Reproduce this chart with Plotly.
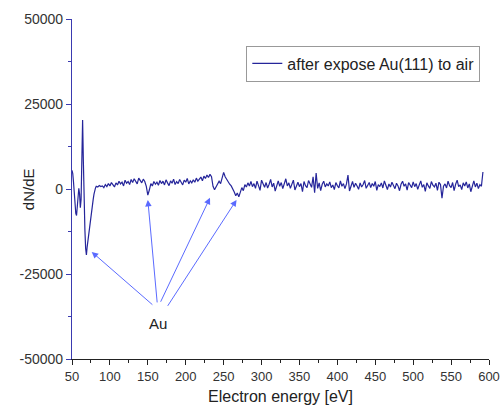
import plotly.graph_objects as go

# Low-energy region (1 eV steps) — Au MNN / NOO structure
energy_low = [50, 51, 52, 53, 54, 55, 56, 57, 58, 59, 60, 61, 62, 63, 64, 65,
              66, 67, 68, 69, 70, 71, 72, 73, 74, 75, 76, 77, 78, 79, 80, 81,
              82, 84, 86, 88]
signal_low = [5500, 4500, 2000, -1500, -5000, -7200, -7800, -5500, -2000, 200,
              -1500, -5500, -3000, 12000, 20300, 8000, -5500, -12000, -17500,
              -19400, -17000, -15000, -13500, -12500, -10000, -8000, -7000,
              -5000, -3000, -1500, -200, 300, 800, 600, 1000, 700]

# Remaining spectrum, 2 eV steps from 90 eV to 592 eV
energy_high = list(range(90, 593, 2))
signal_high = [
    900, 400, 1300, 700, 1600, 900, 1900, 1100, 600, 1800,          # 90-108
    1200, 2300, 1500, 2000, 900, 2600, 1700, 2200, 1300, 2800,      # 110-128
    1900, 3000, 2100, 1500, 3200, 2400, 1800, 2900, 2200, 800,      # 130-148
    -1800, -300, 1600, 900, 2200, 1400, 2000, 1100, 2500, 1600,     # 150-168
    2300, 1200, 2700, 1800, 1000, 2400, 1700, 2900, 1300, 2200,     # 170-188
    1600, 2800, 1900, 1200, 2600, 2000, 3100, 1500, 2400, 1800,     # 190-208
    2700, 2000, 3200, 2300, 2900, 3500, 2400, 3800, 3100, 4100,     # 210-228
    3400, 4300, 3600, 800, -200, 500, 1500, 2300, 1600, 3400,       # 230-248
    4900, 3600, 2800, 2000, 1400, 900, -300, -900, -2000, -1200,    # 250-268
    -2300, -600, 400, -500, 1300, 600, 1800, 900, 2200, 700,        # 270-288
    1600, 200, 2300, 1000, -400, 2600, 1200, 500, 1900, 300,        # 290-308
    1400, 2800, 600, 1700, -600, 1100, 2400, 800, 1900, 100,        # 310-328
    1300, 3000, 900, 1800, 200, 1500, 2600, -300, 1200, 2000,       # 330-348
    700, 1600, -800, 2200, 1000, 400, 2500, 1300, 500, 3600,        # 350-368
    -1100, 4700, 200, 1800, -500, 1400, 2300, 600, 1500, 900,       # 370-388
    2100, 400, 1200, -200, 1900, 1000, 300, 2400, 800, 1600,        # 390-408
    100, 1500, 4100, -600, 1200, 2200, 500, 1700, 900, -100,        # 410-428
    1800, 600, 1300, 2500, 200, 1000, 1900, 400, 1600, 800,         # 430-448
    2200, -400, 1300, 700, 1800, 300, 2400, 1100, -200, 1500,       # 450-468
    600, 2000, 1200, 100, 1700, 900, -500, 1400, 2300, 800,         # 470-488
    1500, -300, 1900, 1000, 400, 2100, 700, 1600, -100, 1200,       # 490-508
    2400, 500, 1300, -700, 1800, 900, 200, 2200, 1100, 600,         # 510-528
    1700, -400, 2000, 1300, -2700, 800, 1500, 300, 2300, 1000,      # 530-548
    400, 1900, -500, 1400, 2600, 700, 1200, -200, 1800, 900,        # 550-568
    2100, 300, 1500, -800, 1200, 2400, 600, 1700, 100, 1300,        # 570-588
    800, 5000,                                                      # 590-592
]

energy = energy_low + energy_high
signal = signal_low + signal_high

# Axis ticks
y_tick_values = [-50000, -25000, 0, 25000, 50000]
y_tick_labels = ["-50000", "-25000", "0", "25000", "50000"]
x_tick_values = [50, 100, 150, 200, 250, 300, 350, 400, 450, 500, 550, 600]

# Arrows from the "Au" label to the gold features
arrow_tip_energy = [76, 150, 232, 267]
arrow_tip_level = [-18500, -3200, -2600, -3200]
arrow_tail_energy = [158, 162.5, 166, 175]
arrow_tail_level = [-34400, -33800, -33600, -34800]
label_energy, label_level, label_text = 164, -39500, "Au"

series_name = "after expose Au(111) to air"
FONT = "Liberation Sans, Arial"

fig = go.Figure()
fig.add_trace(go.Scatter(
    x=energy, y=signal, mode="lines", name=series_name,
    line=dict(color="#25259a", width=1.2),
))

for tx, ty, sx, sy in zip(arrow_tip_energy, arrow_tip_level,
                          arrow_tail_energy, arrow_tail_level):
    fig.add_annotation(
        x=tx, y=ty, ax=sx, ay=sy, xref="x", yref="y", axref="x", ayref="y",
        text="", showarrow=True, arrowhead=2, arrowsize=1.3, arrowwidth=1.0,
        arrowcolor="rgba(50,70,255,0.8)",
    )

fig.add_annotation(
    x=label_energy, y=label_level, text=label_text, showarrow=False,
    font=dict(family=FONT, size=15, color="#222222"),
)

# Y-axis title placed close to the axis labels
fig.add_annotation(
    x=-0.105, y=0.5, xref="paper", yref="paper", xanchor="center",
    yanchor="middle", text="dN/dE", textangle=-90, showarrow=False,
    font=dict(family=FONT, size=15, color="#222222"),
)

fig.update_layout(
    width=500, height=415,
    margin=dict(l=72, r=11, t=19, b=56, autoexpand=False),
    paper_bgcolor="white", plot_bgcolor="white",
    font=dict(family=FONT, size=13, color="#333333"),
    showlegend=True,
    legend=dict(
        x=0.418, y=0.922, xanchor="left", yanchor="top",
        bordercolor="#999999", borderwidth=1, bgcolor="white",
        font=dict(size=16, color="#222222"),
        itemwidth=30, tracegroupgap=0,
    ),
)

fig.update_xaxes(
    range=[50, 600], tickmode="array", tickvals=x_tick_values,
    automargin=False,
    showgrid=False, zeroline=False,
    showline=True, linecolor="#222222", linewidth=1,
    ticks="outside", ticklen=5, tickcolor="#222222",
    minor=dict(ticks="outside", ticklen=3, dtick=25, tickcolor="#222222"),
    tickfont=dict(size=13, color="#333333"),
    title=dict(text="Electron energy [eV]", font=dict(size=16, color="#222222"),
               standoff=8),
)
fig.update_yaxes(
    range=[-50000, 50000], tickmode="array", tickvals=y_tick_values,
    ticktext=y_tick_labels, automargin=False,
    showgrid=False, zeroline=False,
    showline=True, linecolor="#3a3ab0", linewidth=1.2,
    ticks="outside", ticklen=5, tickcolor="#3a3ab0",
    minor=dict(ticks="outside", ticklen=3, dtick=12500, tickcolor="#3a3ab0"),
    tickfont=dict(size=14, color="#333333"),
)

fig.write_html("out.html")
